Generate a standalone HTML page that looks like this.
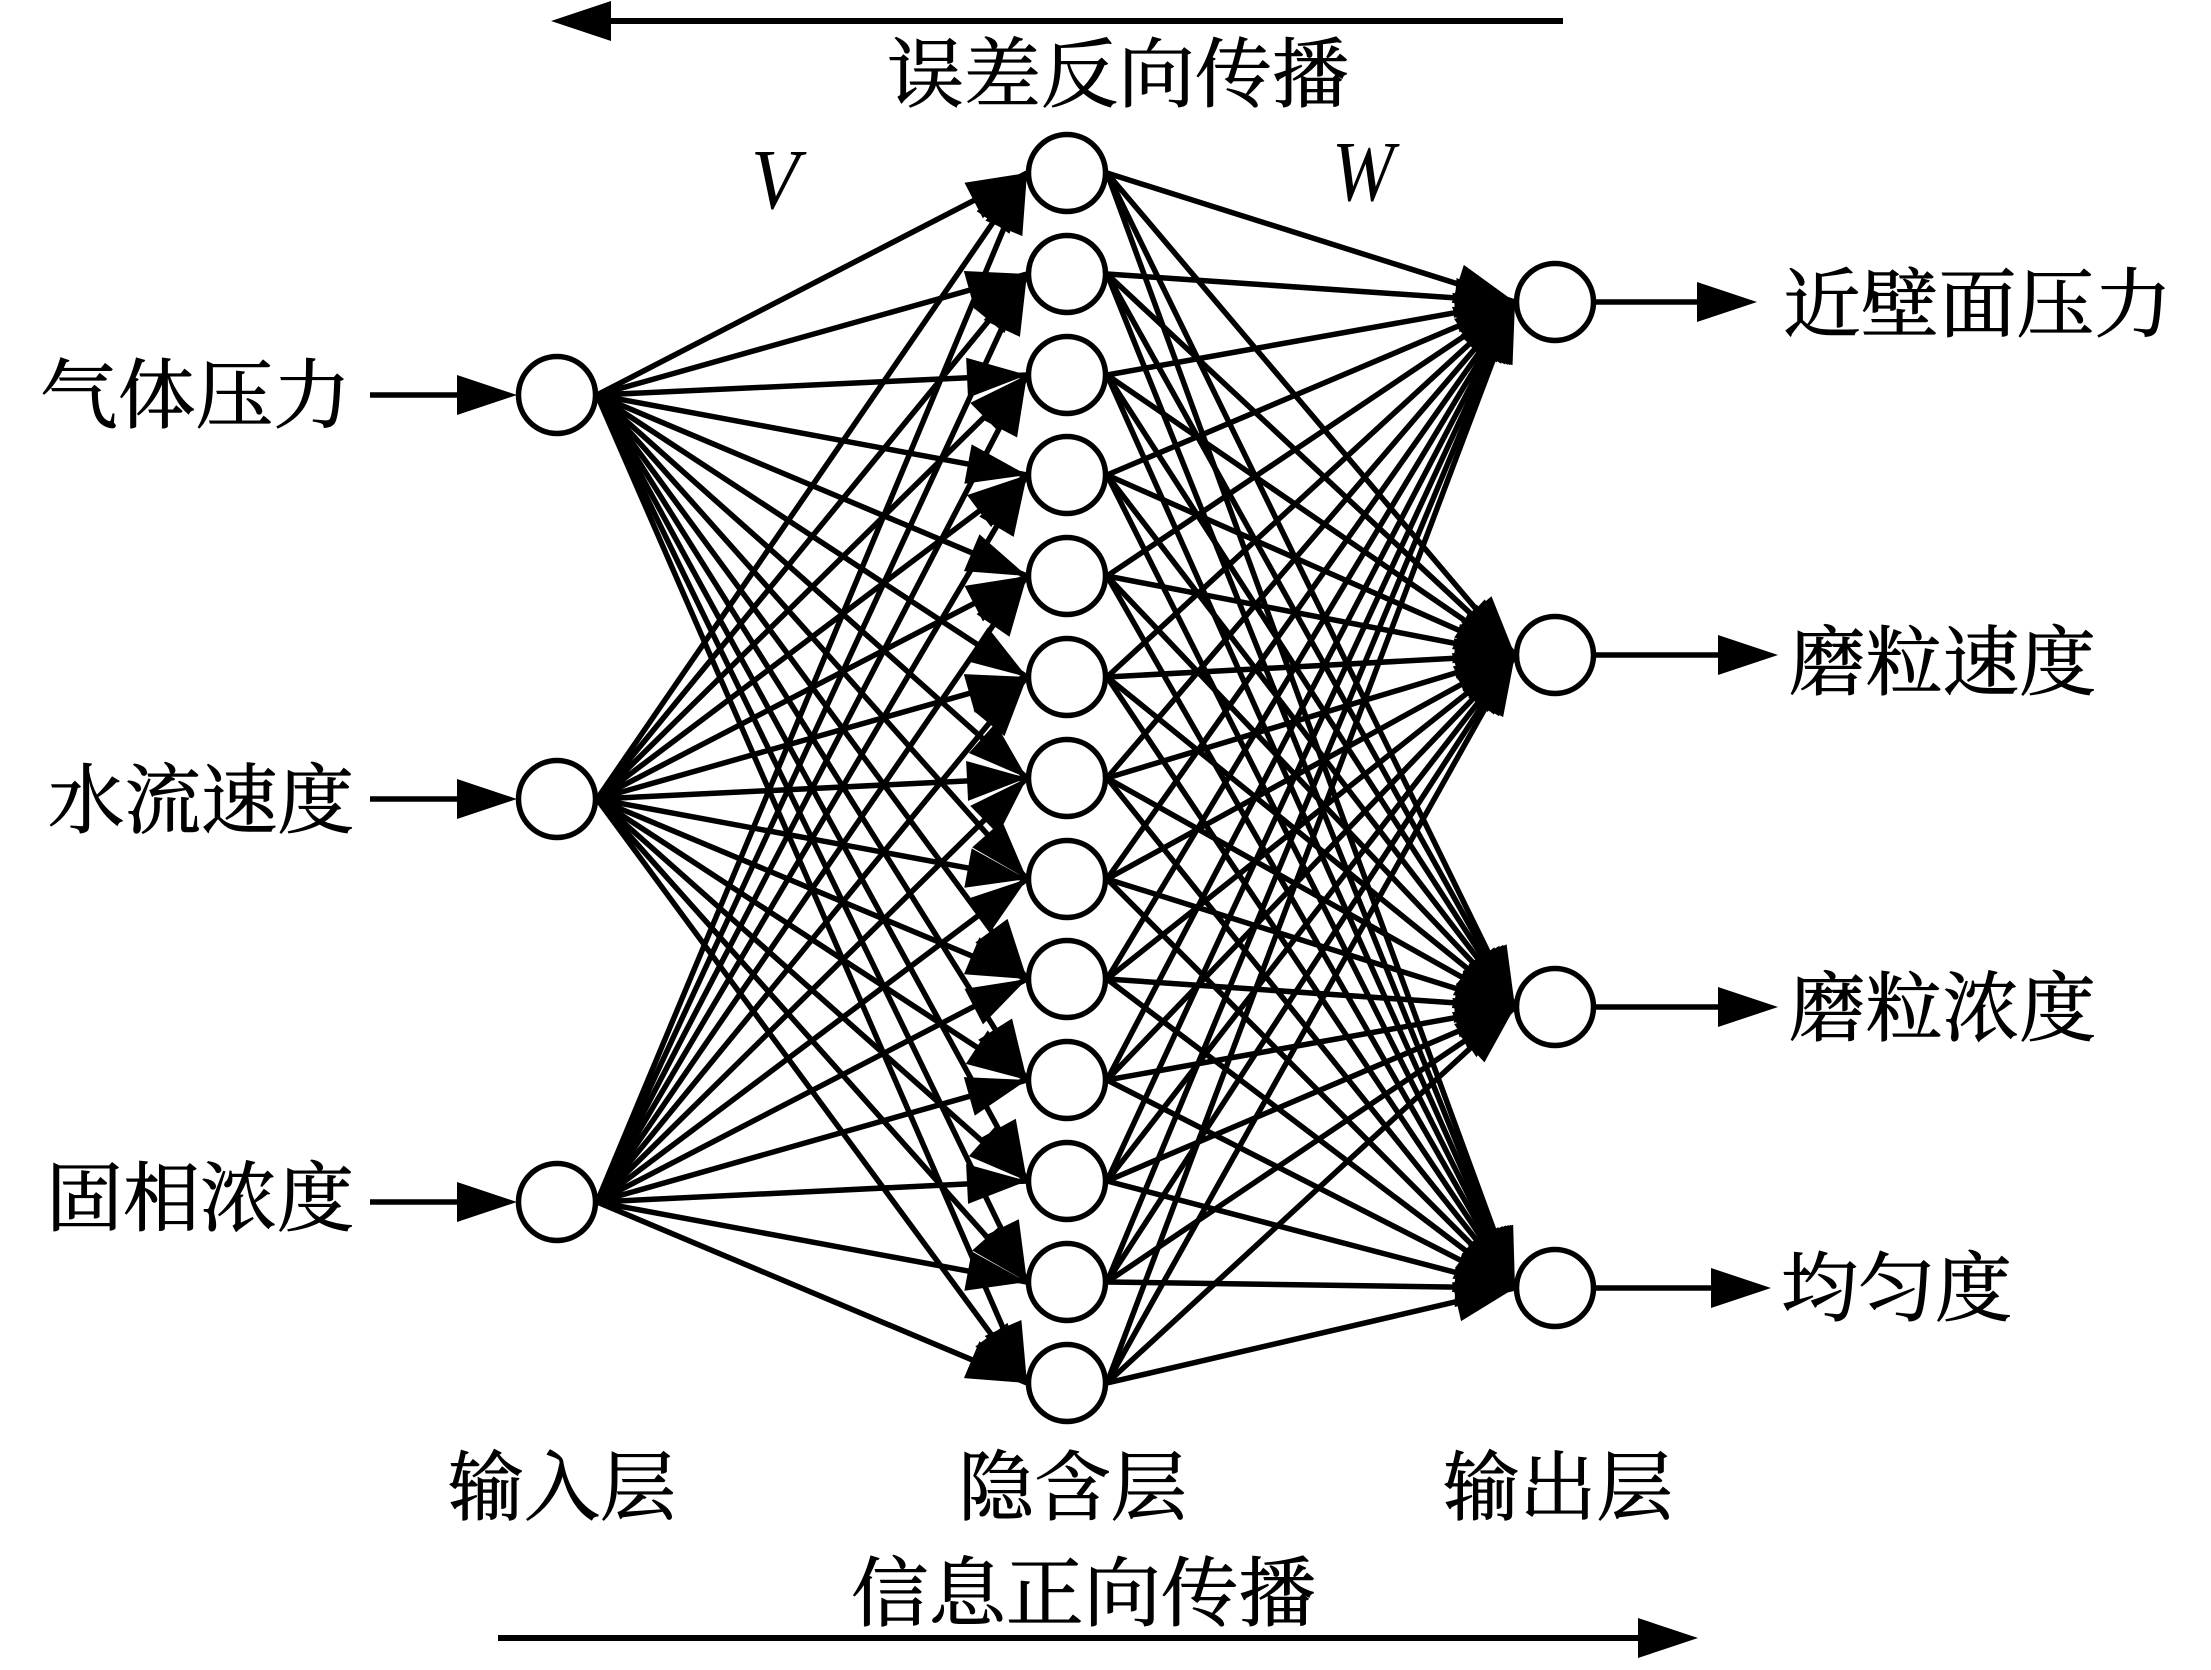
<!DOCTYPE html>
<html>
<head>
<meta charset="utf-8">
<style>
html,body{margin:0;padding:0;background:#fff}
svg{display:block}
text{fill:#000}
.t{font-size:76px;font-family:"Noto Serif CJK SC","Noto Sans CJK SC",serif;stroke:#000;stroke-width:.9px}
.i{font-family:"Liberation Serif",serif;font-style:italic;font-size:86px;font-weight:normal}
</style>
</head>
<body>
<svg xmlns="http://www.w3.org/2000/svg" width="2211" height="1670" viewBox="0 0 2211 1670">
<rect width="2211" height="1670" fill="#fff"/>
<defs>
<marker id="a" markerUnits="userSpaceOnUse" markerWidth="62" markerHeight="42" refX="60" refY="21" orient="auto" overflow="visible"><path d="M0 1L60 21L0 41Z" fill="#000"/></marker>
<marker id="b" markerUnits="userSpaceOnUse" markerWidth="62" markerHeight="42" refX="50" refY="21" orient="auto" overflow="visible"><path d="M0 1L60 21L0 41Z" fill="#000"/></marker>
</defs>
<g stroke="#000" stroke-width="5.5" marker-end="url(#a)" fill="none">
<line x1="597" y1="395" x2="1027" y2="173"/><line x1="597" y1="395" x2="1027" y2="274"/><line x1="597" y1="395" x2="1027" y2="375"/><line x1="597" y1="395" x2="1027" y2="475"/><line x1="597" y1="395" x2="1027" y2="576"/><line x1="597" y1="395" x2="1027" y2="677"/><line x1="597" y1="395" x2="1027" y2="778"/><line x1="597" y1="395" x2="1027" y2="879"/><line x1="597" y1="395" x2="1027" y2="979"/><line x1="597" y1="395" x2="1027" y2="1080"/><line x1="597" y1="395" x2="1027" y2="1181"/><line x1="597" y1="395" x2="1027" y2="1282"/><line x1="597" y1="395" x2="1027" y2="1383"/>
<line x1="597" y1="799" x2="1027" y2="173"/><line x1="597" y1="799" x2="1027" y2="274"/><line x1="597" y1="799" x2="1027" y2="375"/><line x1="597" y1="799" x2="1027" y2="475"/><line x1="597" y1="799" x2="1027" y2="576"/><line x1="597" y1="799" x2="1027" y2="677"/><line x1="597" y1="799" x2="1027" y2="778"/><line x1="597" y1="799" x2="1027" y2="879"/><line x1="597" y1="799" x2="1027" y2="979"/><line x1="597" y1="799" x2="1027" y2="1080"/><line x1="597" y1="799" x2="1027" y2="1181"/><line x1="597" y1="799" x2="1027" y2="1282"/><line x1="597" y1="799" x2="1027" y2="1383"/>
<line x1="597" y1="1202" x2="1027" y2="173"/><line x1="597" y1="1202" x2="1027" y2="274"/><line x1="597" y1="1202" x2="1027" y2="375"/><line x1="597" y1="1202" x2="1027" y2="475"/><line x1="597" y1="1202" x2="1027" y2="576"/><line x1="597" y1="1202" x2="1027" y2="677"/><line x1="597" y1="1202" x2="1027" y2="778"/><line x1="597" y1="1202" x2="1027" y2="879"/><line x1="597" y1="1202" x2="1027" y2="979"/><line x1="597" y1="1202" x2="1027" y2="1080"/><line x1="597" y1="1202" x2="1027" y2="1181"/><line x1="597" y1="1202" x2="1027" y2="1282"/><line x1="597" y1="1202" x2="1027" y2="1383"/>

<line x1="1107" y1="173" x2="1515" y2="302"/><line x1="1107" y1="274" x2="1515" y2="302"/><line x1="1107" y1="375" x2="1515" y2="302"/><line x1="1107" y1="475" x2="1515" y2="302"/><line x1="1107" y1="576" x2="1515" y2="302"/><line x1="1107" y1="677" x2="1515" y2="302"/><line x1="1107" y1="778" x2="1515" y2="302"/><line x1="1107" y1="879" x2="1515" y2="302"/><line x1="1107" y1="979" x2="1515" y2="302"/><line x1="1107" y1="1080" x2="1515" y2="302"/><line x1="1107" y1="1181" x2="1515" y2="302"/><line x1="1107" y1="1282" x2="1515" y2="302"/><line x1="1107" y1="1383" x2="1515" y2="302"/>
<line x1="1107" y1="173" x2="1515" y2="655"/><line x1="1107" y1="274" x2="1515" y2="655"/><line x1="1107" y1="375" x2="1515" y2="655"/><line x1="1107" y1="475" x2="1515" y2="655"/><line x1="1107" y1="576" x2="1515" y2="655"/><line x1="1107" y1="677" x2="1515" y2="655"/><line x1="1107" y1="778" x2="1515" y2="655"/><line x1="1107" y1="879" x2="1515" y2="655"/><line x1="1107" y1="979" x2="1515" y2="655"/><line x1="1107" y1="1080" x2="1515" y2="655"/><line x1="1107" y1="1181" x2="1515" y2="655"/><line x1="1107" y1="1282" x2="1515" y2="655"/><line x1="1107" y1="1383" x2="1515" y2="655"/>
<line x1="1107" y1="173" x2="1515" y2="1007"/><line x1="1107" y1="274" x2="1515" y2="1007"/><line x1="1107" y1="375" x2="1515" y2="1007"/><line x1="1107" y1="475" x2="1515" y2="1007"/><line x1="1107" y1="576" x2="1515" y2="1007"/><line x1="1107" y1="677" x2="1515" y2="1007"/><line x1="1107" y1="778" x2="1515" y2="1007"/><line x1="1107" y1="879" x2="1515" y2="1007"/><line x1="1107" y1="979" x2="1515" y2="1007"/><line x1="1107" y1="1080" x2="1515" y2="1007"/><line x1="1107" y1="1181" x2="1515" y2="1007"/><line x1="1107" y1="1282" x2="1515" y2="1007"/><line x1="1107" y1="1383" x2="1515" y2="1007"/>
<line x1="1107" y1="173" x2="1515" y2="1288"/><line x1="1107" y1="274" x2="1515" y2="1288"/><line x1="1107" y1="375" x2="1515" y2="1288"/><line x1="1107" y1="475" x2="1515" y2="1288"/><line x1="1107" y1="576" x2="1515" y2="1288"/><line x1="1107" y1="677" x2="1515" y2="1288"/><line x1="1107" y1="778" x2="1515" y2="1288"/><line x1="1107" y1="879" x2="1515" y2="1288"/><line x1="1107" y1="979" x2="1515" y2="1288"/><line x1="1107" y1="1080" x2="1515" y2="1288"/><line x1="1107" y1="1181" x2="1515" y2="1288"/><line x1="1107" y1="1282" x2="1515" y2="1288"/><line x1="1107" y1="1383" x2="1515" y2="1288"/>
</g>
<g stroke="#000" stroke-width="5.5" marker-end="url(#b)" fill="none">
<line x1="370" y1="395" x2="507" y2="395"/><line x1="370" y1="799" x2="507" y2="799"/><line x1="370" y1="1202" x2="507" y2="1202"/>
<line x1="1595" y1="302" x2="1747" y2="302"/><line x1="1595" y1="655" x2="1768" y2="655"/><line x1="1595" y1="1007" x2="1768" y2="1007"/><line x1="1595" y1="1288" x2="1761" y2="1288"/>
<line x1="1563" y1="21" x2="561" y2="21" stroke-width="6"/><line x1="498" y1="1638" x2="1688" y2="1638" stroke-width="6"/>
</g>
<g fill="#fff" stroke="#000" stroke-width="5.5">
<circle cx="557" cy="395" r="38.5"/><circle cx="557" cy="799" r="38.5"/><circle cx="557" cy="1202" r="38.5"/>
<circle cx="1067" cy="173" r="38.5"/><circle cx="1067" cy="274" r="38.5"/><circle cx="1067" cy="375" r="38.5"/><circle cx="1067" cy="475" r="38.5"/><circle cx="1067" cy="576" r="38.5"/><circle cx="1067" cy="677" r="38.5"/><circle cx="1067" cy="778" r="38.5"/><circle cx="1067" cy="879" r="38.5"/><circle cx="1067" cy="979" r="38.5"/><circle cx="1067" cy="1080" r="38.5"/><circle cx="1067" cy="1181" r="38.5"/><circle cx="1067" cy="1282" r="38.5"/><circle cx="1067" cy="1383" r="38.5"/>
<circle cx="1555" cy="302" r="38.5"/><circle cx="1555" cy="655" r="38.5"/><circle cx="1555" cy="1007" r="38.5"/><circle cx="1555" cy="1288" r="38.5"/>
</g>
<g>
<text class="t" x="887" y="101" textLength="462" lengthAdjust="spacingAndGlyphs">误差反向传播</text>
<text class="t" x="40" y="422" textLength="311" lengthAdjust="spacingAndGlyphs">气体压力</text>
<text class="t" x="48" y="827" textLength="306" lengthAdjust="spacingAndGlyphs">水流速度</text>
<text class="t" x="46" y="1225" textLength="308" lengthAdjust="spacingAndGlyphs">固相浓度</text>
<text class="t" x="1783" y="331" textLength="389" lengthAdjust="spacingAndGlyphs">近壁面压力</text>
<text class="t" x="1789" y="689" textLength="307" lengthAdjust="spacingAndGlyphs">磨粒速度</text>
<text class="t" x="1789" y="1035" textLength="307" lengthAdjust="spacingAndGlyphs">磨粒浓度</text>
<text class="t" x="1781" y="1315" textLength="231" lengthAdjust="spacingAndGlyphs">均匀度</text>
<text class="t" x="448" y="1514" textLength="228" lengthAdjust="spacingAndGlyphs">输入层</text>
<text class="t" x="958" y="1514" textLength="229" lengthAdjust="spacingAndGlyphs">隐含层</text>
<text class="t" x="1443" y="1514" textLength="230" lengthAdjust="spacingAndGlyphs">输出层</text>
<text class="t" x="851" y="1620" textLength="465" lengthAdjust="spacingAndGlyphs">信息正向传播</text>
<text class="i" x="751" y="208" textLength="48" lengthAdjust="spacingAndGlyphs">V</text>
<text class="i" x="1332" y="200" textLength="62" lengthAdjust="spacingAndGlyphs">W</text>
</g>
</svg>
</body>
</html>
